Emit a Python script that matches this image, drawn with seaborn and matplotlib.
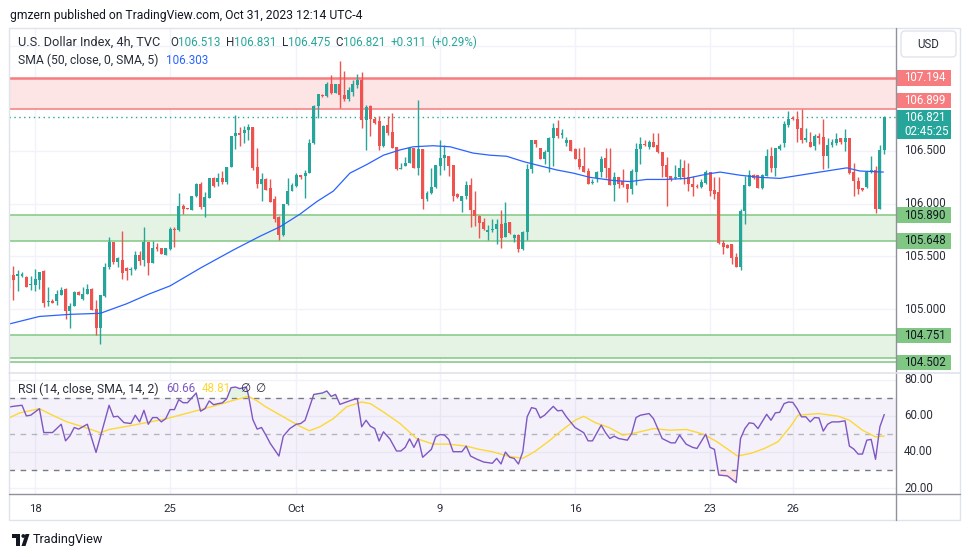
import numpy as np
import pandas as pd
import matplotlib
matplotlib.use("Agg")
import matplotlib.pyplot as plt
import matplotlib.transforms as mtransforms
from matplotlib.patches import Rectangle, Polygon, Circle, FancyBboxPatch
from matplotlib.lines import Line2D
import seaborn as sns

# ---------------- data (4h candles, U.S. Dollar Index) ----------------
opens = [105.22, 105.32, 105.31, 105.31, 105.30, 105.23, 105.23, 105.28, 105.36, 105.07,
         105.08, 105.08, 105.13, 105.19, 104.98, 105.03, 105.16, 105.10, 105.14, 105.19,
         105.00, 104.82, 105.12, 105.40, 105.64, 105.45, 105.47, 105.39, 105.37, 105.38,
         105.51, 105.47, 105.64, 105.44, 105.59, 105.58, 105.51, 105.57, 105.76, 105.75,
         105.98, 105.96, 105.94, 106.07, 106.19, 105.97, 106.05, 106.24, 106.21, 106.24,
         106.21, 106.35, 106.64, 106.67, 106.67, 106.70, 106.73, 106.35, 106.19, 106.23,
         106.15, 106.04, 105.87, 105.70, 106.00, 106.12, 106.17, 106.27, 106.26, 106.29,
         106.58, 106.93, 107.03, 107.02, 107.14, 107.05, 107.14, 107.03, 106.99, 107.06,
         107.13, 107.17, 106.79, 106.93, 106.80, 106.78, 106.55, 106.75, 106.68, 106.54,
         106.33, 106.36, 106.39, 106.53, 106.34, 106.52, 106.04, 106.10, 106.16, 106.36,
         106.43, 106.45, 106.37, 106.09, 106.03, 106.07, 106.18, 105.94, 105.88, 105.83,
         105.73, 105.75, 105.76, 105.81, 105.68, 105.83, 105.67, 105.70, 105.57, 105.73,
         106.33, 106.60, 106.53, 106.42, 106.49, 106.62, 106.72, 106.65, 106.58, 106.60,
         106.52, 106.42, 106.36, 106.31, 106.20, 106.24, 106.30, 106.43, 106.34, 106.18,
         106.25, 106.22, 106.19, 106.14, 106.30, 106.52, 106.57, 106.54, 106.59, 106.56,
         106.49, 106.37, 106.26, 106.24, 106.25, 106.34, 106.25, 106.19, 106.17, 106.16,
         106.20, 106.30, 106.13, 106.11, 105.63, 105.61, 105.62, 105.49, 105.40, 105.93,
         106.17, 106.27, 106.27, 106.15, 106.26, 106.45, 106.34, 106.52, 106.58, 106.75,
         106.81, 106.80, 106.72, 106.60, 106.59, 106.55, 106.64, 106.63, 106.45, 106.56,
         106.58, 106.62, 106.59, 106.62, 106.30, 106.22, 106.15, 106.16, 106.30, 106.32,
         105.95, 106.513]
highs = [105.33, 105.41, 105.37, 105.35, 105.31, 105.31, 105.38, 105.35, 105.37, 105.21,
         105.10, 105.18, 105.21, 105.20, 105.06, 105.17, 105.17, 105.21, 105.24, 105.20,
         105.09, 105.13, 105.44, 105.68, 105.64, 105.49, 105.74, 105.40, 105.40, 105.55,
         105.55, 105.78, 105.64, 105.65, 105.63, 105.58, 105.58, 105.78, 105.78, 106.10,
         106.00, 105.96, 106.07, 106.20, 106.21, 106.11, 106.24, 106.25, 106.29, 106.31,
         106.35, 106.64, 106.84, 106.73, 106.74, 106.76, 106.73, 106.53, 106.29, 106.24,
         106.23, 106.07, 105.88, 106.00, 106.24, 106.20, 106.29, 106.27, 106.32, 106.61,
         106.94, 107.04, 107.04, 107.15, 107.22, 107.14, 107.35, 107.26, 107.11, 107.17,
         107.23, 107.25, 106.94, 106.94, 106.82, 106.83, 106.75, 106.83, 106.86, 106.54,
         106.39, 106.44, 106.54, 106.53, 106.98, 106.52, 106.12, 106.34, 106.37, 106.60,
         106.56, 106.45, 106.37, 106.10, 106.07, 106.22, 106.24, 106.12, 105.89, 105.86,
         105.80, 105.85, 105.85, 105.94, 106.02, 105.83, 105.71, 105.71, 105.74, 106.38,
         106.60, 106.60, 106.53, 106.51, 106.63, 106.77, 106.79, 106.71, 106.63, 106.60,
         106.53, 106.53, 106.54, 106.34, 106.23, 106.31, 106.45, 106.53, 106.53, 106.30,
         106.25, 106.33, 106.19, 106.33, 106.58, 106.63, 106.60, 106.60, 106.67, 106.67,
         106.49, 106.44, 106.26, 106.37, 106.42, 106.41, 106.39, 106.26, 106.19, 106.23,
         106.32, 106.30, 106.25, 106.25, 105.66, 105.62, 105.62, 105.53, 105.95, 106.26,
         106.32, 106.28, 106.27, 106.28, 106.52, 106.54, 106.53, 106.57, 106.78, 106.88,
         106.83, 106.88, 106.90, 106.72, 106.68, 106.66, 106.67, 106.80, 106.62, 106.61,
         106.67, 106.62, 106.71, 106.62, 106.39, 106.25, 106.15, 106.31, 106.45, 106.36,
         106.56, 106.831]
lows = [105.20, 105.09, 105.17, 105.30, 105.21, 105.18, 105.17, 105.19, 105.02, 105.03,
        105.06, 105.04, 105.13, 104.91, 104.82, 105.03, 105.13, 105.09, 105.14, 104.99,
        104.75, 104.67, 105.11, 105.38, 105.43, 105.40, 105.29, 105.28, 105.32, 105.37,
        105.42, 105.41, 105.32, 105.44, 105.55, 105.52, 105.51, 105.56, 105.59, 105.74,
        105.90, 105.95, 105.94, 106.06, 105.95, 105.87, 106.05, 106.16, 106.17, 106.19,
        106.19, 106.35, 106.52, 106.55, 106.58, 106.60, 106.32, 106.15, 106.03, 106.13,
        106.02, 105.83, 105.66, 105.69, 105.99, 106.12, 106.16, 106.23, 106.05, 106.29,
        106.57, 106.81, 107.01, 107.01, 107.04, 107.05, 106.91, 106.97, 106.97, 107.02,
        107.10, 106.72, 106.51, 106.64, 106.76, 106.51, 106.54, 106.65, 106.53, 106.32,
        106.33, 106.36, 106.39, 106.34, 106.27, 105.95, 106.03, 106.09, 106.15, 106.27,
        106.32, 106.26, 106.03, 106.05, 105.92, 106.04, 105.78, 105.79, 105.67, 105.75,
        105.66, 105.73, 105.62, 105.58, 105.68, 105.71, 105.64, 105.54, 105.56, 105.66,
        106.29, 106.54, 106.42, 106.38, 106.30, 106.36, 106.62, 106.62, 106.55, 106.50,
        106.42, 106.33, 106.30, 106.19, 106.19, 106.21, 106.25, 106.24, 106.18, 106.03,
        106.15, 106.16, 106.02, 106.09, 106.18, 106.38, 106.55, 106.52, 106.54, 106.48,
        106.25, 105.98, 106.22, 106.23, 106.23, 106.19, 106.12, 106.07, 106.15, 106.15,
        106.19, 106.07, 106.04, 105.62, 105.52, 105.58, 105.43, 105.40, 105.37, 105.81,
        106.17, 106.23, 106.15, 106.14, 106.26, 106.30, 106.26, 106.51, 106.54, 106.73,
        106.79, 106.59, 106.58, 106.59, 106.54, 106.51, 106.57, 106.33, 106.34, 106.54,
        106.56, 106.57, 106.50, 106.28, 106.07, 106.09, 106.12, 106.15, 106.29, 105.91,
        105.95, 106.475]
closes = [105.31, 105.28, 105.33, 105.33, 105.21, 105.24, 105.29, 105.35, 105.06, 105.08,
          105.06, 105.14, 105.18, 104.98, 105.03, 105.16, 105.13, 105.14, 105.19, 104.99,
          104.82, 105.13, 105.40, 105.64, 105.45, 105.48, 105.34, 105.36, 105.38, 105.51,
          105.46, 105.64, 105.44, 105.58, 105.57, 105.52, 105.58, 105.76, 105.75, 105.98,
          105.95, 105.95, 106.07, 106.19, 105.97, 106.06, 106.24, 106.17, 106.24, 106.21,
          106.35, 106.64, 106.67, 106.65, 106.70, 106.73, 106.34, 106.19, 106.23, 106.13,
          106.02, 105.85, 105.70, 106.00, 106.12, 106.18, 106.27, 106.25, 106.29, 106.58,
          106.93, 107.04, 107.02, 107.14, 107.05, 107.14, 107.03, 106.99, 107.08, 107.14,
          107.17, 106.79, 106.92, 106.80, 106.77, 106.55, 106.74, 106.67, 106.53, 106.33,
          106.34, 106.39, 106.53, 106.34, 106.52, 106.04, 106.10, 106.16, 106.37, 106.43,
          106.46, 106.36, 106.07, 106.06, 106.07, 106.18, 105.94, 105.88, 105.82, 105.76,
          105.75, 105.76, 105.81, 105.67, 105.82, 105.72, 105.70, 105.57, 105.73, 106.33,
          106.60, 106.57, 106.42, 106.49, 106.62, 106.72, 106.64, 106.67, 106.60, 106.50,
          106.42, 106.35, 106.30, 106.19, 106.21, 106.30, 106.42, 106.34, 106.18, 106.25,
          106.19, 106.18, 106.14, 106.31, 106.52, 106.57, 106.56, 106.59, 106.54, 106.49,
          106.36, 106.25, 106.23, 106.25, 106.34, 106.25, 106.19, 106.16, 106.16, 106.21,
          106.30, 106.12, 106.09, 105.63, 105.59, 105.58, 105.48, 105.40, 105.93, 106.18,
          106.27, 106.24, 106.15, 106.27, 106.45, 106.34, 106.53, 106.55, 106.76, 106.80,
          106.80, 106.71, 106.60, 106.62, 106.54, 106.64, 106.62, 106.45, 106.56, 106.59,
          106.61, 106.59, 106.62, 106.29, 106.22, 106.14, 106.13, 106.30, 106.32, 105.95,
          106.51, 106.821]

# SMA(50) line (bar index, value)
sma_x = [0.2, 7, 14, 21, 27, 32, 37, 44, 51.5, 57.6, 62.2, 66.8, 70.7, 74.5, 78.3, 82.1,
         86, 89.8, 92.8, 97.4, 101.3, 106.6, 110.5, 114.3, 118.1, 121.9, 125.8, 129.6,
         133.4, 138.8, 142.6, 146.4, 151, 155.6, 160.2, 163.3, 167.9, 172.5, 177, 181.6,
         186.2, 192.4, 195.4, 200.8]
sma_y = [104.86, 104.93, 104.95, 104.96, 105.05, 105.14, 105.22, 105.39, 105.56, 105.69,
         105.78, 105.90, 106.02, 106.12, 106.29, 106.37, 106.46, 106.51, 106.54, 106.55,
         106.54, 106.48, 106.46, 106.45, 106.40, 106.36, 106.32, 106.29, 106.25, 106.22,
         106.21, 106.23, 106.23, 106.24, 106.28, 106.30, 106.27, 106.25, 106.24, 106.27,
         106.30, 106.34, 106.31, 106.30]

# RSI(14) line (bar index, value)
rsi_x = [0.2, 1, 3, 4, 5, 6, 7, 8, 10, 12, 13, 14, 15, 16, 18, 20, 23, 24, 25, 26.4,
         28, 29, 30, 31, 32, 33, 34, 35, 36, 37, 38, 39, 40, 41, 43, 44, 45, 46, 47, 48,
         49, 50, 51, 52, 53, 54.5, 55, 56, 57, 58, 59, 60, 62, 63, 64.5, 66, 67, 68, 70,
         71, 72, 73, 74, 75, 76, 77.5, 79, 80, 81, 82, 83, 84, 85, 86, 87.5, 89, 90, 91,
         92, 93, 94, 95, 96, 97, 98, 99, 100, 101, 102, 104, 105, 106, 107.5, 109, 111,
         112, 113, 114, 115, 116, 117, 118, 119, 120, 121, 122, 123, 125, 126, 127, 128,
         130, 132, 133, 134, 136, 137, 138, 139, 140, 142, 143, 144, 145, 147, 148, 149,
         150, 152, 153, 154, 155.5, 157, 158, 160, 161, 162, 163, 165, 167, 168, 169, 170,
         171, 172, 174, 175, 176, 177, 178, 179, 180, 181, 182, 183, 184, 185, 186, 187,
         188, 189, 190.5, 192, 193, 194, 195, 196, 197, 198, 199, 200, 201]
rsi_y = [64.9, 65.2, 65.8, 59.9, 60.3, 62.1, 63.9, 50.7, 50.7, 55.3, 46.1, 48.9, 53.5,
         52.6, 55.3, 39.7, 65.8, 59.4, 59.7, 56.2, 55.7, 60.3, 56.6, 63.0, 55.3, 59.0,
         59.0, 56.6, 58.4, 63.4, 63.4, 68.9, 67.2, 67.2, 72.6, 62.5, 63.9, 68.2, 66.1,
         66.7, 67.1, 69.4, 75.5, 75.9, 75.0, 75.9, 71.3, 57.9, 52.6, 53.5, 49.3, 44.7,
         37.7, 48.7, 52.9, 55.3, 55.7, 57.5, 71.8, 72.2, 72.6, 73.7, 70.7, 71.8, 66.3,
         67.6, 68.9, 69.4, 53.9, 57.5, 54.2, 52.9, 46.0, 51.1, 47.1, 40.5, 40.5, 42.5,
         47.2, 42.5, 47.4, 37.0, 39.2, 41.4, 48.3, 49.6, 49.3, 46.9, 40.1, 40.1, 43.2,
         37.7, 35.9, 34.4, 33.7, 36.4, 33.3, 39.9, 37.0, 36.4, 33.3, 40.1, 59.4, 64.5,
         63.9, 58.8, 60.3, 65.2, 62.7, 63.0, 59.4, 53.5, 50.6, 46.1, 46.1, 54.8, 50.6,
         47.4, 48.7, 47.4, 46.5, 50.2, 59.0, 60.3, 61.2, 58.4, 52.9, 47.4, 45.0, 45.0,
         49.3, 44.3, 42.5, 41.9, 49.8, 42.5, 41.4, 27.2, 26.7, 23.0, 47.4, 52.9, 56.1,
         55.7, 52.9, 60.8, 57.5, 61.6, 61.9, 66.7, 67.6, 67.4, 63.9, 59.4, 59.4, 56.6,
         59.0, 58.8, 51.5, 55.3, 56.6, 56.6, 57.2, 43.2, 41.6, 38.8, 38.8, 46.5, 46.9,
         35.9, 53.9, 60.66]

# RSI-based SMA(14) line (bar index, value)
rsima_x = [0.2, 2.5, 7, 10, 13.3, 17, 21, 23, 28.6, 32.4, 36.2, 40, 44, 47.7, 51.5, 55,
           57, 59, 63, 66.8, 69, 71.4, 74.5, 77.5, 81, 83, 86, 89.8, 93.6, 97.4, 101,
           105, 108, 111, 114.5, 118, 120.7, 123.8, 127, 130, 132, 134.7, 137.8, 141, 144,
           148, 151.7, 155.6, 159.5, 162.6, 167.3, 170.4, 173.5, 176.6, 179.7, 181.2, 186,
           190.5, 193, 196, 199, 201]
rsima_y = [59.0, 61.6, 63.9, 60.3, 56.6, 53.9, 50.6, 52.4, 54.8, 56.6, 58.4, 60.8, 63.4,
           65.8, 68.5, 70.7, 68.2, 64.9, 59.4, 54.2, 51.7, 53.9, 58.4, 64.9, 67.6, 66.7,
           62.1, 55.7, 47.4, 44.3, 44.3, 43.2, 41.4, 40.1, 37.7, 36.4, 40.1, 45.6, 52.0,
           57.5, 59.7, 56.1, 53.5, 49.3, 50.6, 52.9, 52.0, 52.4, 49.8, 45.6, 37.7, 39.2,
           41.9, 45.6, 54.8, 60.3, 61.2, 59.7, 57.5, 52.0, 48.3, 48.81]

date_pos = [6, 37, 66, 99, 130, 161, 180]
date_labels = ['18', '25', 'Oct', '9', '16', '23', '26']

price_ticks = [105.0, 105.5, 106.0, 106.5]
price_tick_labels = ['105.000', '105.500', '106.000', '106.500']
rsi_ticks = [80, 60, 40, 20]
rsi_tick_labels = ['80.00', '60.00', '40.00', '20.00']

resist_zone = (106.899, 107.194)
support_zone1 = (105.648, 105.890)
support_zone2 = (104.533, 104.751)
support_line3 = 104.502
last_price = 106.821

# ---------------- style ----------------
UP, DN = '#26a69a', '#ef5350'
DARK = '#2a2e39'
GRID = '#f0f3fa'
RED_LBL, GRN_LBL = '#f77c80', '#81c784'

sns.set_theme(style="white")
plt.rcParams['font.family'] = ['Roboto', 'DejaVu Sans']

W, H = 970, 557
fig = plt.figure(figsize=(W / 100, H / 100), dpi=100)
fig.patch.set_facecolor('white')
pix = mtransforms.Affine2D().scale(1.0 / W, -1.0 / H).translate(0, 1) + fig.transFigure


def fx(px):
    return px / W


def fy(py):
    return 1 - py / H


PX0, PX1 = 9, 896
PT, PB = 28, 372
RT, RB = 373, 494
YMAX, YMIN = 107.667, 104.403
RMAX, RMIN = 83.65, 16.7

ax = fig.add_axes([fx(PX0), fy(PB), (PX1 - PX0) / W, (PB - PT) / H])
axr = fig.add_axes([fx(PX0), fy(RB), (PX1 - PX0) / W, (RB - RT) / H], sharex=ax)
for a in (ax, axr):
    a.set_facecolor('none')
    for s in a.spines.values():
        s.set_visible(False)
    a.grid(False)

ax.set_xlim(0.013, 203.7)
ax.set_ylim(YMIN, YMAX)
axr.set_ylim(RMIN, RMAX)

# grid
for p in np.arange(104.5, 107.6, 0.5):
    ax.axhline(p, color=GRID, lw=1, zorder=0)
for r in rsi_ticks:
    axr.axhline(r, color=GRID, lw=1, zorder=0)
for d in date_pos:
    ax.axvline(d, color=GRID, lw=1, zorder=0)
    axr.axvline(d, color=GRID, lw=1, zorder=0)

# zones
ax.axhspan(*resist_zone, color='#fde4e5', lw=0, zorder=1)
ax.axhline(resist_zone[1], color=RED_LBL, lw=1.8, zorder=2)
ax.axhline(resist_zone[0], color=RED_LBL, lw=1.1, zorder=2)
ax.axhspan(*support_zone1, color='#e5f3e4', lw=0, zorder=1)
ax.axhline(support_zone1[0], color=GRN_LBL, lw=1.1, zorder=2)
ax.axhline(support_zone1[1], color=GRN_LBL, lw=1.1, zorder=2)
ax.axhspan(*support_zone2, color='#e5f3e4', lw=0, zorder=1)
ax.axhline(support_zone2[0], color=GRN_LBL, lw=1.1, zorder=2)
ax.axhline(support_zone2[1], color=GRN_LBL, lw=1.1, zorder=2)
ax.axhline(support_line3, color=GRN_LBL, lw=1.1, zorder=2)
ax.axhline(last_price, color=UP, lw=1, ls=(0, (1, 2.5)), zorder=2)

# candles
df = pd.DataFrame({'o': opens, 'h': highs, 'l': lows, 'c': closes})
df['x'] = np.arange(len(df))
df['h'] = df[['h', 'o', 'c']].max(axis=1)
df['l'] = df[['l', 'o', 'c']].min(axis=1)
cols = np.where(df.c >= df.o, UP, DN)
ax.vlines(df.x, df.l, df.h, colors=cols, lw=1, zorder=3)
body_lo = np.minimum(df.o, df.c)
body_h = np.maximum(np.abs(df.c - df.o), 0.007)
ax.bar(df.x, body_h, bottom=body_lo, width=0.68, color=cols, edgecolor='none', zorder=4)

# SMA
sns.lineplot(x=sma_x, y=sma_y, ax=ax, color='#2962ff', linewidth=0.9, zorder=5,
             estimator=None, sort=False)

# RSI panel
axr.axhspan(30, 70, color='#7e57c2', alpha=0.08, lw=0, zorder=1)
axr.axhline(70, color='#787b86', lw=1, ls=(0, (4, 4)), zorder=2)
axr.axhline(30, color='#787b86', lw=1, ls=(0, (4, 4)), zorder=2)
axr.axhline(50, color='#787b86', lw=1, ls=(0, (4, 4)), alpha=0.5, zorder=2)
rx = np.array(rsi_x)
ry = np.array(rsi_y)
axr.fill_between(rx, ry, 70, where=ry > 70, interpolate=True, color='#4caf50', alpha=0.15, lw=0)
axr.fill_between(rx, ry, 30, where=ry < 30, interpolate=True, color='#f23645', alpha=0.15, lw=0)
sns.lineplot(x=rsima_x, y=rsima_y, ax=axr, color='#fdd835', linewidth=1.0, zorder=4,
             estimator=None, sort=False)
sns.lineplot(x=rsi_x, y=rsi_y, ax=axr, color='#7e57c2', linewidth=1.0, zorder=5,
             estimator=None, sort=False)

ax.set_xlabel('')
ax.set_ylabel('')
axr.set_xlabel('')
axr.set_ylabel('')
ax.set_yticks([])
axr.set_yticks([])
axr.set_xticks(date_pos)
axr.set_xticklabels(date_labels)
ax.tick_params(axis='x', labelbottom=False, length=0)
axr.tick_params(axis='x', length=0, pad=7, labelsize=8.2, labelcolor=DARK)

# frame lines
fig.add_artist(Rectangle((9, 28), 951, 492, transform=pix, fill=False, edgecolor='#e0e3eb', lw=1))
fig.add_artist(Line2D([896, 896], [28, 520], transform=pix, color='#8f929b', lw=1))
fig.add_artist(Line2D([9, 960], [372.5, 372.5], transform=pix, color='#e0e3eb', lw=1.2))
fig.add_artist(Line2D([9, 960], [494, 494], transform=pix, color='#8f929b', lw=1))

# right axis labels
tp = mtransforms.blended_transform_factory(pix, ax.transData)
tr = mtransforms.blended_transform_factory(pix, axr.transData)
dp = (YMAX - YMIN) / (PB - PT)
for v, lbl in zip(price_ticks, price_tick_labels):
    ax.text(904, v, lbl, transform=tp, fontsize=8.3, color=DARK, va='center', ha='left',
            clip_on=False, zorder=8)
for v, lbl in zip(rsi_ticks, rsi_tick_labels):
    axr.text(904, v, lbl, transform=tr, fontsize=8.3, color=DARK, va='center', ha='left',
             clip_on=False, zorder=8)


def level_box(price, text, fc, tc, shift_px=0.0):
    y = price + shift_px * dp
    rect = Rectangle((896, y - 7.8 * dp), 55, 15.6 * dp, transform=tp,
                     facecolor=fc, edgecolor='none', clip_on=False, zorder=10)
    ax.add_patch(rect)
    ax.text(904, y, text, transform=tp, fontsize=8.3, color=tc, va='center', ha='left',
            clip_on=False, zorder=11)


level_box(resist_zone[1], '107.194', RED_LBL, 'white')
level_box(resist_zone[0], '106.899', RED_LBL, 'white', shift_px=8.4)
level_box(support_zone1[1], '105.890', GRN_LBL, '#131722')
level_box(support_zone1[0], '105.648', GRN_LBL, '#131722')
level_box(support_zone2[1], '104.751', GRN_LBL, '#131722')
level_box(support_line3, '104.502', GRN_LBL, '#131722', shift_px=-0.8)
ax.add_patch(Rectangle((896, last_price - 21.8 * dp), 55, 29.4 * dp, transform=tp,
                       facecolor=UP, edgecolor='none', clip_on=False, zorder=10))
ax.text(904, last_price, '106.821', transform=tp, fontsize=8.3, color='white', va='center',
        ha='left', clip_on=False, zorder=11)
ax.text(904, last_price - 14 * dp, '02:45:25', transform=tp, fontsize=8.3, color='white',
        va='center', ha='left', clip_on=False, zorder=11)

# USD box
fig.add_artist(FancyBboxPatch((901, 31), 55, 26, boxstyle='round,pad=0,rounding_size=4',
                              transform=pix, facecolor='white', edgecolor='#e0e3eb', lw=1))
fig.text(928.5, 44, 'USD', transform=pix, fontsize=8.3, color=DARK, ha='center', va='center')

# texts
renderer = fig.canvas.get_renderer()


def ptext(x, y, s, size=8.0, color=DARK, width=None, ha='left'):
    t = fig.text(x, y, s, transform=pix, fontsize=size, color=color, ha=ha, va='center')
    if width is not None:
        w = t.get_window_extent(renderer=renderer).width
        t.set_fontsize(size * width / w)
    return t


def seq(x, y, parts, size):
    for s, c, gap in parts:
        t = fig.text(x, y, s, transform=pix, fontsize=size, color=c, ha='left', va='center')
        x += t.get_window_extent(renderer=renderer).width + gap
    return x


ptext(10, 15, 'gmzern published on TradingView.com, Oct 31, 2023 12:14 UTC-4', 8.5,
      '#131722', width=351)
VS = 8.4
ptext(18, 42, 'U.S. Dollar Index, 4h, TVC', 8.5, DARK, width=142)
seq(170, 42, [('O', DARK, 0.4), ('106.513', UP, 5),
              ('H', DARK, 0.4), ('106.831', UP, 5),
              ('L', DARK, 0.4), ('106.475', UP, 5),
              ('C', DARK, 0.4), ('106.821', UP, 5),
              ('+0.311', UP, 4), ('(+0.29%)', UP, 0)], VS)
ptext(18, 60, 'SMA (50, close, 0, SMA, 5)', 8.5, DARK, width=139)
ptext(166, 60, '106.303', VS, '#2962ff')
ptext(18, 389, 'RSI (14, close, SMA, 14, 2)', 8.5, DARK, width=140)
ptext(166, 389, '60.66', VS, '#7e57c2')
ptext(202, 389, '48.81', VS, '#fdd835')
ptext(240, 389, '\u2205', VS, DARK)
ptext(255, 389, '\u2205', VS, DARK)

# TradingView logo
fig.add_artist(Polygon([(12, 534), (20.5, 534), (20.5, 546), (16.5, 546), (16.5, 537.5), (12, 537.5)],
                       closed=True, transform=pix, facecolor='#131722', edgecolor='none'))
fig.add_artist(Circle((23.3, 536), 1.9, transform=pix, facecolor='#131722', edgecolor='none'))
fig.add_artist(Polygon([(25.5, 534), (29.5, 534), (25.5, 546), (21.5, 546)], closed=True,
                       transform=pix, facecolor='#131722', edgecolor='none'))
ptext(33, 540, 'TradingView', 8.5, '#131722', width=70)

fig.savefig('out.png', dpi=100, facecolor='white')
